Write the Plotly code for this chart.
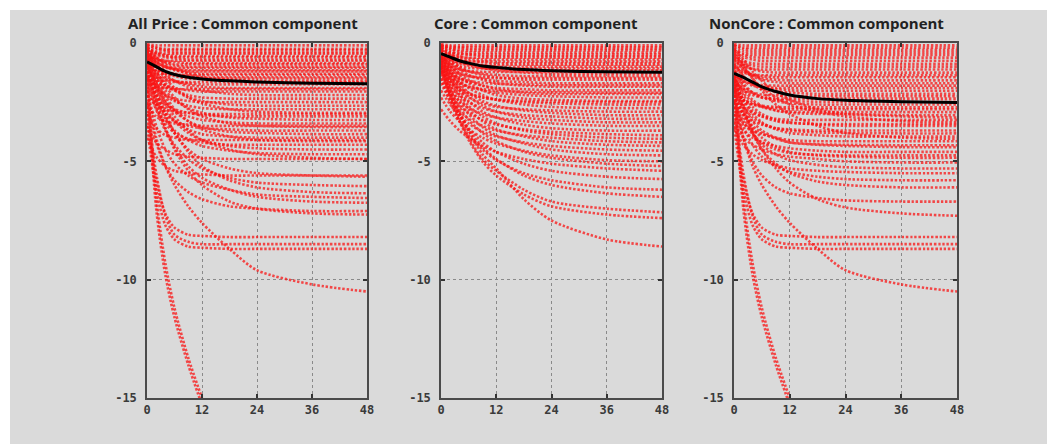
import plotly.graph_objects as go

horizons = [0, 2, 4, 6, 9, 12, 18, 24, 36, 48]

titles = ["All Price : Common component", "Core : Common component", "NonCore : Common component"]
x_ticks = [0, 12, 24, 36, 48]
x_tick_labels = ["0", "12", "24", "36", "48"]
y_ticks = [0, -5, -10, -15]
y_tick_labels = ["0", "-5", "-10", "-15"]

# Mean (black) responses
allprice_mean = [-0.8, -1.0, -1.2, -1.33, -1.45, -1.52, -1.6, -1.65, -1.7, -1.72]
core_mean = [-0.45, -0.6, -0.75, -0.85, -0.97, -1.03, -1.12, -1.17, -1.22, -1.24]
noncore_mean = [-1.28, -1.45, -1.65, -1.85, -2.05, -2.2, -2.35, -2.42, -2.48, -2.51]

# Individual (red dotted) responses
allprice_items = [
    [-0.05, -0.1, -0.1, -0.1, -0.1, -0.1, -0.1, -0.1, -0.1, -0.1],
    [-0.1, -0.2, -0.25, -0.25, -0.25, -0.25, -0.25, -0.25, -0.25, -0.25],
    [-0.1, -0.2, -0.3, -0.3, -0.3, -0.3, -0.3, -0.3, -0.3, -0.3],
    [-0.2, -0.3, -0.35, -0.4, -0.4, -0.4, -0.4, -0.4, -0.4, -0.4],
    [-0.3, -0.4, -0.45, -0.45, -0.45, -0.45, -0.45, -0.45, -0.45, -0.45],
    [-0.2, -0.4, -0.5, -0.55, -0.55, -0.55, -0.55, -0.55, -0.55, -0.55],
    [-0.2, -0.45, -0.55, -0.6, -0.6, -0.6, -0.6, -0.6, -0.6, -0.6],
    [-0.3, -0.5, -0.6, -0.65, -0.7, -0.7, -0.7, -0.7, -0.7, -0.7],
    [-0.5, -0.7, -0.75, -0.75, -0.75, -0.75, -0.75, -0.75, -0.75, -0.75],
    [-0.3, -0.6, -0.75, -0.8, -0.85, -0.85, -0.85, -0.85, -0.85, -0.85],
    [-0.3, -0.65, -0.8, -0.9, -0.9, -0.9, -0.9, -0.9, -0.9, -0.9],
    [-0.4, -0.7, -0.85, -0.95, -1.0, -1.0, -1.0, -1.0, -1.0, -1.0],
    [-0.7, -0.95, -1.05, -1.05, -1.05, -1.05, -1.05, -1.05, -1.05, -1.05],
    [-0.5, -0.8, -1.0, -1.1, -1.15, -1.15, -1.15, -1.15, -1.15, -1.15],
    [-0.4, -0.8, -1.0, -1.1, -1.2, -1.2, -1.2, -1.2, -1.2, -1.2],
    [-0.3, -0.8, -1.0, -1.15, -1.25, -1.3, -1.3, -1.3, -1.3, -1.3],
    [-0.9, -1.2, -1.3, -1.35, -1.35, -1.35, -1.35, -1.35, -1.35, -1.35],
    [-0.6, -1.0, -1.2, -1.3, -1.4, -1.45, -1.45, -1.45, -1.45, -1.45],
    [-0.5, -1.0, -1.25, -1.4, -1.5, -1.5, -1.5, -1.5, -1.5, -1.5],
    [-0.2, -0.6, -0.9, -1.1, -1.3, -1.45, -1.55, -1.6, -1.6, -1.6],
    [-1.1, -1.45, -1.6, -1.65, -1.65, -1.65, -1.65, -1.65, -1.65, -1.65],
    [-0.8, -1.3, -1.5, -1.6, -1.7, -1.75, -1.75, -1.75, -1.75, -1.75],
    [-1.5, -1.8, -1.9, -1.95, -1.95, -1.95, -1.95, -1.95, -1.95, -1.95],
    [-0.4, -1.0, -1.4, -1.6, -1.75, -1.85, -1.9, -1.9, -1.9, -1.9],
    [-1.0, -1.6, -1.8, -1.9, -2.0, -2.05, -2.05, -2.05, -2.05, -2.05],
    [-0.3, -0.9, -1.3, -1.6, -1.85, -2.0, -2.15, -2.2, -2.2, -2.2],
    [-0.7, -1.4, -1.8, -2.0, -2.2, -2.3, -2.35, -2.35, -2.35, -2.35],
    [-1.2, -1.9, -2.2, -2.35, -2.45, -2.5, -2.5, -2.5, -2.5, -2.5],
    [-0.5, -1.2, -1.7, -2.0, -2.3, -2.45, -2.6, -2.65, -2.65, -2.65],
    [-0.9, -1.7, -2.2, -2.45, -2.65, -2.75, -2.8, -2.8, -2.8, -2.8],
    [-0.4, -1.0, -1.5, -1.9, -2.3, -2.55, -2.8, -2.9, -2.95, -2.95],
    [-2.2, -2.6, -2.8, -2.9, -2.95, -3.0, -3.0, -3.0, -3.0, -3.0],
    [-1.4, -2.2, -2.6, -2.8, -2.95, -3.05, -3.1, -3.1, -3.1, -3.1],
    [-0.6, -1.4, -2.0, -2.4, -2.75, -2.95, -3.15, -3.2, -3.25, -3.25],
    [-1.0, -1.9, -2.5, -2.85, -3.1, -3.25, -3.35, -3.4, -3.4, -3.4],
    [-2.6, -3.1, -3.3, -3.4, -3.45, -3.5, -3.5, -3.5, -3.5, -3.5],
    [-0.5, -1.2, -1.8, -2.3, -2.8, -3.1, -3.4, -3.5, -3.55, -3.55],
    [-1.6, -2.5, -3.0, -3.3, -3.5, -3.6, -3.65, -3.7, -3.7, -3.7],
    [-0.8, -1.7, -2.4, -2.9, -3.3, -3.55, -3.75, -3.8, -3.85, -3.85],
    [-1.2, -2.2, -2.9, -3.3, -3.65, -3.85, -3.95, -4.0, -4.0, -4.0],
    [-3.0, -3.6, -3.9, -4.0, -4.1, -4.1, -4.1, -4.1, -4.1, -4.1],
    [-0.6, -1.5, -2.2, -2.8, -3.3, -3.65, -3.95, -4.1, -4.15, -4.15],
    [-1.8, -2.8, -3.4, -3.8, -4.05, -4.2, -4.3, -4.3, -4.3, -4.3],
    [-0.9, -1.9, -2.7, -3.3, -3.8, -4.1, -4.35, -4.45, -4.5, -4.5],
    [-1.3, -2.4, -3.2, -3.7, -4.1, -4.35, -4.55, -4.65, -4.7, -4.7],
    [-3.5, -4.2, -4.5, -4.7, -4.8, -4.85, -4.9, -4.9, -4.9, -4.9],
    [-0.7, -1.7, -2.5, -3.1, -3.7, -4.1, -4.5, -4.7, -4.85, -4.9],
    [-1.0, -2.2, -3.1, -3.8, -4.5, -4.9, -5.3, -5.5, -5.6, -5.65],
    [-4.0, -4.8, -5.2, -5.4, -5.5, -5.55, -5.6, -5.6, -5.6, -5.6],
    [-1.5, -2.8, -3.7, -4.3, -4.9, -5.3, -5.7, -5.9, -6.0, -6.05],
    [-0.8, -2.0, -3.0, -3.8, -4.6, -5.2, -5.8, -6.1, -6.3, -6.35],
    [-2.0, -3.5, -4.5, -5.1, -5.6, -5.9, -6.2, -6.4, -6.5, -6.55],
    [-1.2, -2.6, -3.6, -4.4, -5.2, -5.7, -6.2, -6.5, -6.7, -6.75],
    [-2.5, -4.2, -5.2, -5.8, -6.3, -6.6, -6.9, -7.0, -7.1, -7.1],
    [-1.0, -2.4, -3.6, -4.5, -5.4, -6.0, -6.7, -7.0, -7.2, -7.25],
    [-3.0, -5.8, -7.2, -7.8, -8.1, -8.15, -8.2, -8.2, -8.2, -8.2],
    [-2.5, -5.5, -7.3, -8.1, -8.4, -8.5, -8.5, -8.5, -8.5, -8.5],
    [-3.5, -6.2, -7.7, -8.3, -8.6, -8.65, -8.7, -8.7, -8.7, -8.7],
    [-2.0, -4.0, -5.2, -6.0, -6.9, -7.6, -8.7, -9.6, -10.2, -10.5],
    [-1.0, -6.5, -9.3, -11.2, -13.3, -15.0, None, None, None, None],
    [-1.5, -7.0, -9.8, -11.6, -13.6, -15.3, None, None, None, None],
]

core_items = [
    [-0.05, -0.1, -0.1, -0.1, -0.1, -0.1, -0.1, -0.1, -0.1, -0.1],
    [-0.1, -0.15, -0.18, -0.18, -0.18, -0.18, -0.18, -0.18, -0.18, -0.18],
    [-0.1, -0.2, -0.2, -0.25, -0.25, -0.25, -0.25, -0.25, -0.25, -0.25],
    [-0.15, -0.25, -0.3, -0.32, -0.32, -0.32, -0.32, -0.32, -0.32, -0.32],
    [-0.1, -0.25, -0.35, -0.4, -0.4, -0.4, -0.4, -0.4, -0.4, -0.4],
    [-0.25, -0.4, -0.45, -0.48, -0.48, -0.48, -0.48, -0.48, -0.48, -0.48],
    [-0.2, -0.35, -0.45, -0.5, -0.55, -0.55, -0.55, -0.55, -0.55, -0.55],
    [-0.35, -0.5, -0.58, -0.62, -0.62, -0.62, -0.62, -0.62, -0.62, -0.62],
    [-0.2, -0.4, -0.55, -0.65, -0.7, -0.7, -0.7, -0.7, -0.7, -0.7],
    [-0.45, -0.62, -0.72, -0.78, -0.78, -0.78, -0.78, -0.78, -0.78, -0.78],
    [-0.3, -0.5, -0.65, -0.75, -0.8, -0.85, -0.85, -0.85, -0.85, -0.85],
    [-0.5, -0.72, -0.85, -0.9, -0.92, -0.92, -0.92, -0.92, -0.92, -0.92],
    [-0.3, -0.6, -0.75, -0.85, -0.95, -1.0, -1.0, -1.0, -1.0, -1.0],
    [-0.6, -0.85, -0.98, -1.05, -1.08, -1.08, -1.08, -1.08, -1.08, -1.08],
    [-0.4, -0.7, -0.85, -0.95, -1.05, -1.1, -1.15, -1.15, -1.15, -1.15],
    [-0.7, -1.0, -1.12, -1.18, -1.22, -1.22, -1.22, -1.22, -1.22, -1.22],
    [-0.2, -0.5, -0.75, -0.9, -1.05, -1.15, -1.25, -1.3, -1.3, -1.3],
    [-0.5, -0.9, -1.1, -1.2, -1.3, -1.35, -1.4, -1.4, -1.4, -1.4],
    [-0.8, -1.15, -1.3, -1.4, -1.45, -1.48, -1.48, -1.48, -1.48, -1.48],
    [-0.3, -0.7, -1.0, -1.2, -1.35, -1.45, -1.55, -1.55, -1.55, -1.55],
    [-0.6, -1.0, -1.25, -1.4, -1.5, -1.6, -1.65, -1.7, -1.7, -1.7],
    [-0.9, -1.3, -1.5, -1.6, -1.68, -1.72, -1.75, -1.78, -1.78, -1.78],
    [-0.3, -0.8, -1.1, -1.35, -1.55, -1.7, -1.8, -1.85, -1.85, -1.85],
    [-0.7, -1.2, -1.5, -1.65, -1.8, -1.9, -1.95, -2.0, -2.0, -2.0],
    [-1.0, -1.45, -1.7, -1.85, -1.95, -2.02, -2.06, -2.08, -2.1, -2.1],
    [-0.4, -0.9, -1.3, -1.55, -1.8, -1.95, -2.1, -2.15, -2.15, -2.15],
    [-0.8, -1.3, -1.65, -1.85, -2.0, -2.1, -2.2, -2.25, -2.3, -2.3],
    [-0.4, -1.0, -1.4, -1.7, -2.0, -2.2, -2.35, -2.4, -2.45, -2.45],
    [-1.2, -1.65, -1.95, -2.15, -2.3, -2.38, -2.45, -2.48, -2.5, -2.5],
    [-0.9, -1.5, -1.85, -2.1, -2.3, -2.4, -2.5, -2.55, -2.6, -2.6],
    [-0.5, -1.1, -1.55, -1.9, -2.2, -2.4, -2.6, -2.7, -2.75, -2.75],
    [-1.0, -1.6, -2.0, -2.3, -2.55, -2.7, -2.8, -2.85, -2.9, -2.9],
    [-0.5, -1.2, -1.7, -2.1, -2.45, -2.65, -2.85, -2.95, -3.05, -3.05],
    [-1.1, -1.8, -2.2, -2.5, -2.75, -2.9, -3.05, -3.1, -3.2, -3.2],
    [-0.6, -1.3, -1.85, -2.25, -2.65, -2.9, -3.15, -3.25, -3.35, -3.35],
    [-1.3, -2.0, -2.45, -2.75, -3.0, -3.15, -3.3, -3.4, -3.5, -3.5],
    [-0.6, -1.4, -2.0, -2.45, -2.9, -3.15, -3.45, -3.6, -3.7, -3.7],
    [-1.5, -2.2, -2.65, -2.95, -3.25, -3.45, -3.65, -3.75, -3.85, -3.9],
    [-0.7, -1.5, -2.15, -2.65, -3.1, -3.4, -3.7, -3.85, -4.0, -4.05],
    [-1.7, -2.4, -2.9, -3.2, -3.5, -3.7, -3.9, -4.0, -4.15, -4.2],
    [-0.8, -1.6, -2.3, -2.8, -3.3, -3.65, -3.95, -4.15, -4.3, -4.35],
    [-2.0, -2.6, -3.05, -3.4, -3.75, -3.95, -4.2, -4.35, -4.5, -4.55],
    [-0.9, -1.8, -2.5, -3.0, -3.55, -3.9, -4.25, -4.5, -4.7, -4.75],
    [-2.3, -2.9, -3.3, -3.65, -4.0, -4.25, -4.55, -4.75, -4.95, -5.0],
    [-1.0, -2.0, -2.7, -3.25, -3.8, -4.15, -4.6, -4.85, -5.1, -5.2],
    [-2.8, -3.3, -3.7, -4.0, -4.35, -4.6, -4.9, -5.1, -5.3, -5.4],
    [-1.2, -2.2, -3.0, -3.6, -4.2, -4.6, -5.1, -5.4, -5.65, -5.75],
    [-1.5, -2.5, -3.3, -3.9, -4.5, -4.95, -5.5, -5.8, -6.1, -6.2],
    [-1.0, -2.1, -3.0, -3.7, -4.4, -4.9, -5.6, -6.0, -6.35, -6.5],
    [-1.0, -2.2, -3.2, -4.0, -4.9, -5.4, -6.2, -6.7, -7.0, -7.15],
    [-1.1, -2.3, -3.3, -4.1, -5.0, -5.6, -6.4, -6.9, -7.25, -7.4],
    [-0.8, -1.9, -2.9, -3.7, -4.7, -5.3, -6.6, -7.5, -8.3, -8.6],
]

noncore_items = [
    [-0.05, -0.1, -0.1, -0.1, -0.1, -0.1, -0.1, -0.1, -0.1, -0.1],
    [-0.1, -0.2, -0.2, -0.2, -0.2, -0.2, -0.2, -0.2, -0.2, -0.2],
    [-0.1, -0.25, -0.3, -0.3, -0.3, -0.3, -0.3, -0.3, -0.3, -0.3],
    [-0.2, -0.35, -0.4, -0.4, -0.4, -0.4, -0.4, -0.4, -0.4, -0.4],
    [-0.3, -0.45, -0.5, -0.5, -0.5, -0.5, -0.5, -0.5, -0.5, -0.5],
    [-0.3, -0.5, -0.6, -0.62, -0.62, -0.62, -0.62, -0.62, -0.62, -0.62],
    [-0.4, -0.6, -0.7, -0.75, -0.75, -0.75, -0.75, -0.75, -0.75, -0.75],
    [-0.5, -0.75, -0.85, -0.88, -0.88, -0.88, -0.88, -0.88, -0.88, -0.88],
    [-0.6, -0.85, -0.95, -1.0, -1.0, -1.0, -1.0, -1.0, -1.0, -1.0],
    [-0.7, -0.98, -1.08, -1.12, -1.12, -1.12, -1.12, -1.12, -1.12, -1.12],
    [-0.5, -0.9, -1.1, -1.2, -1.25, -1.25, -1.25, -1.25, -1.25, -1.25],
    [-1.0, -1.25, -1.33, -1.36, -1.36, -1.36, -1.36, -1.36, -1.36, -1.36],
    [-0.9, -1.2, -1.35, -1.4, -1.45, -1.45, -1.45, -1.45, -1.45, -1.45],
    [-0.7, -1.1, -1.35, -1.48, -1.55, -1.58, -1.58, -1.58, -1.58, -1.58],
    [-0.6, -1.1, -1.4, -1.55, -1.65, -1.7, -1.7, -1.7, -1.7, -1.7],
    [-1.3, -1.6, -1.72, -1.78, -1.8, -1.8, -1.8, -1.8, -1.8, -1.8],
    [-1.2, -1.6, -1.8, -1.85, -1.9, -1.9, -1.9, -1.9, -1.9, -1.9],
    [-0.9, -1.4, -1.7, -1.85, -1.95, -2.0, -2.02, -2.02, -2.02, -2.02],
    [-0.8, -1.4, -1.75, -1.95, -2.05, -2.1, -2.15, -2.15, -2.15, -2.15],
    [-1.6, -1.95, -2.1, -2.18, -2.22, -2.25, -2.25, -2.25, -2.25, -2.25],
    [-1.5, -2.0, -2.2, -2.3, -2.35, -2.35, -2.35, -2.35, -2.35, -2.35],
    [-1.2, -1.8, -2.1, -2.28, -2.4, -2.45, -2.48, -2.48, -2.48, -2.48],
    [-1.0, -1.7, -2.1, -2.3, -2.45, -2.55, -2.6, -2.6, -2.6, -2.6],
    [-2.0, -2.4, -2.58, -2.65, -2.7, -2.72, -2.72, -2.72, -2.72, -2.72],
    [-1.8, -2.4, -2.6, -2.7, -2.75, -2.8, -2.8, -2.8, -2.8, -2.8],
    [-1.4, -2.1, -2.5, -2.7, -2.85, -2.9, -2.92, -2.92, -2.92, -2.92],
    [-1.1, -1.9, -2.4, -2.65, -2.85, -2.95, -3.0, -3.0, -3.05, -3.05],
    [-0.2, -0.7, -1.2, -1.6, -2.1, -2.4, -2.8, -3.0, -3.1, -3.15],
    [-2.1, -2.7, -2.95, -3.1, -3.2, -3.25, -3.25, -3.25, -3.25, -3.25],
    [-0.4, -1.0, -1.5, -1.9, -2.3, -2.6, -2.9, -3.1, -3.3, -3.35],
    [-1.6, -2.4, -2.85, -3.1, -3.3, -3.38, -3.42, -3.42, -3.42, -3.42],
    [-1.3, -2.2, -2.7, -3.0, -3.25, -3.35, -3.45, -3.5, -3.5, -3.5],
    [-2.4, -3.0, -3.3, -3.45, -3.6, -3.65, -3.7, -3.7, -3.7, -3.7],
    [-1.9, -2.7, -3.15, -3.4, -3.6, -3.7, -3.78, -3.8, -3.82, -3.82],
    [-1.4, -2.4, -3.0, -3.35, -3.65, -3.8, -3.9, -3.95, -3.95, -3.95],
    [-0.3, -0.9, -1.5, -2.0, -2.6, -3.0, -3.5, -3.8, -4.0, -4.05],
    [-2.7, -3.4, -3.7, -3.85, -4.0, -4.1, -4.15, -4.15, -4.15, -4.15],
    [-2.2, -3.0, -3.5, -3.8, -4.05, -4.2, -4.28, -4.3, -4.32, -4.32],
    [-1.6, -2.6, -3.3, -3.7, -4.0, -4.2, -4.3, -4.35, -4.4, -4.4],
    [-3.0, -3.7, -4.0, -4.2, -4.35, -4.45, -4.55, -4.6, -4.6, -4.6],
    [-2.5, -3.3, -3.85, -4.2, -4.5, -4.65, -4.72, -4.75, -4.75, -4.75],
    [-1.8, -2.9, -3.6, -4.0, -4.4, -4.6, -4.75, -4.8, -4.85, -4.85],
    [-3.3, -4.0, -4.3, -4.5, -4.7, -4.8, -4.9, -5.0, -5.05, -5.05],
    [-2.0, -3.1, -3.8, -4.3, -4.7, -4.95, -5.15, -5.25, -5.3, -5.3],
    [-3.6, -4.3, -4.7, -4.95, -5.15, -5.3, -5.4, -5.45, -5.5, -5.5],
    [-2.2, -3.5, -4.3, -4.8, -5.2, -5.45, -5.65, -5.75, -5.8, -5.8],
    [-1.5, -2.8, -3.8, -4.5, -5.1, -5.5, -5.85, -6.0, -6.1, -6.1],
    [-2.5, -4.0, -5.0, -5.6, -6.1, -6.35, -6.55, -6.65, -6.7, -6.7],
    [-1.2, -2.6, -3.7, -4.5, -5.3, -5.9, -6.6, -6.95, -7.2, -7.3],
    [-3.0, -5.8, -7.2, -7.8, -8.1, -8.15, -8.2, -8.2, -8.2, -8.2],
    [-2.5, -5.5, -7.3, -8.1, -8.4, -8.5, -8.5, -8.5, -8.5, -8.5],
    [-3.5, -6.2, -7.7, -8.3, -8.6, -8.65, -8.7, -8.7, -8.7, -8.7],
    [-2.0, -4.0, -5.2, -6.0, -6.9, -7.6, -8.7, -9.6, -10.2, -10.5],
    [-1.0, -6.5, -9.3, -11.2, -13.3, -15.0, None, None, None, None],
    [-1.5, -7.0, -9.8, -11.6, -13.6, -15.3, None, None, None, None],
]

panels = [
    (allprice_items, allprice_mean),
    (core_items, core_mean),
    (noncore_items, noncore_mean),
]

# The page body has an 8px margin, so the figure is 8px smaller and shifted.
OFF = 8
W, H = 1055 - OFF, 444 - OFF
x_px = [(147 - OFF, 367 - OFF), (441 - OFF, 662 - OFF), (734 - OFF, 957 - OFF)]
y_px = (43 - OFF, 398 - OFF)
title_cx = [243 - OFF, 536 - OFF, 826 - OFF]

fig = go.Figure()

for i, (items, mean) in enumerate(panels):
    sfx = "" if i == 0 else str(i + 1)
    for row in items:
        fig.add_trace(go.Scatter(
            x=horizons, y=row, mode="lines",
            line=dict(color="rgba(250,20,20,0.75)", width=2.6, dash="2.4px,1.8px", shape="spline", smoothing=0.8),
            hoverinfo="skip", showlegend=False, connectgaps=False,
            xaxis="x" + sfx, yaxis="y" + sfx,
        ))
    fig.add_trace(go.Scatter(
        x=horizons, y=mean, mode="lines",
        line=dict(color="black", width=3, shape="spline", smoothing=0.8),
        hoverinfo="skip", showlegend=False,
        xaxis="x" + sfx, yaxis="y" + sfx,
    ))

tick_font = dict(family="DejaVu Sans Mono", size=12, color="#3a3a3a", weight="bold")
axis_common = dict(
    showline=True, linecolor="#4a4a4a", linewidth=1.5, mirror="ticks",
    ticks="inside", ticklen=4, tickcolor="#333", tickwidth=1.5,
    showgrid=True, gridcolor="#8a8a8a", gridwidth=1, griddash="dot",
    zeroline=False, tickfont=tick_font, fixedrange=True, automargin=False,
)

layout = dict(
    width=W, height=H,
    margin=dict(l=0, r=0, t=0, b=0, autoexpand=False),
    paper_bgcolor="white",
    plot_bgcolor="#f9f9f9",
    shapes=[dict(type="rect", xref="paper", yref="paper",
                 x0=(10 - OFF) / W, x1=1.0, y0=0, y1=1 - (10 - OFF) / H,
                 fillcolor="#dadada", line=dict(width=0), layer="below")],
    annotations=[],
)

for i in range(3):
    sfx = "" if i == 0 else str(i + 1)
    x0, x1 = x_px[i]
    layout["xaxis" + sfx] = dict(
        domain=[x0 / W, x1 / W], range=[0, 48], anchor="y" + sfx,
        tickvals=x_ticks, ticktext=x_tick_labels, **axis_common,
    )
    layout["yaxis" + sfx] = dict(
        domain=[1 - y_px[1] / H, 1 - y_px[0] / H], range=[-15, 0], anchor="x" + sfx,
        tickvals=y_ticks, ticktext=y_tick_labels, ticklabelstandoff=6, **axis_common,
    )
    layout["annotations"].append(dict(
        text="<b>" + titles[i] + "</b>", xref="paper", yref="paper",
        x=title_cx[i] / W, y=1 - (23 - OFF) / H, xanchor="center", yanchor="middle",
        showarrow=False, font=dict(family="Open Sans", size=15, color="#222"),
    ))

fig.update_layout(**layout)
fig.write_html("out.html")
